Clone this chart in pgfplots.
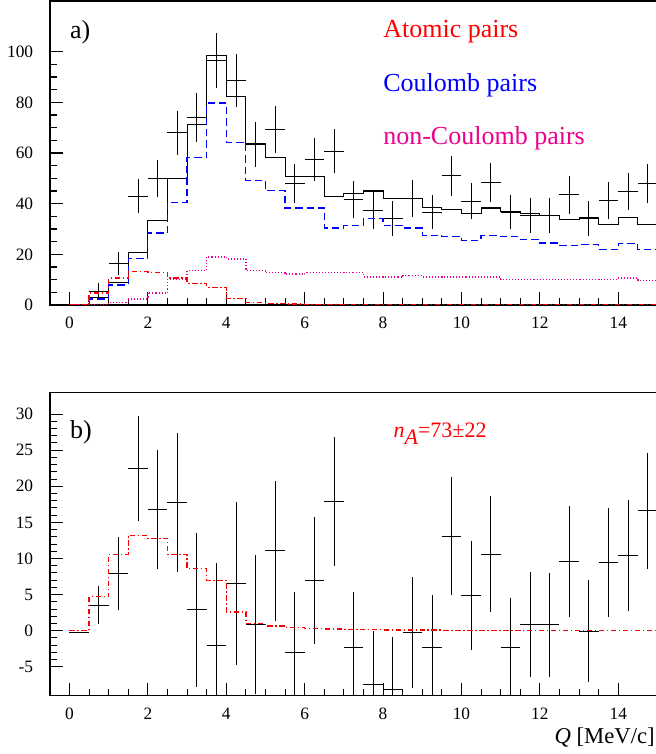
\documentclass[border=0pt]{standalone}
\usepackage{fontspec}
\setmainfont{Liberation Serif}
\usepackage{pgfplots}
\usepackage{pgfplotstable}
\pgfplotsset{compat=1.18}

% measured data points (bin centre, value, error)
\pgfplotstableread{
x     y      ey
0.25  0      0
0.75  5.5    3.0
1.25  16.4   4.4
1.75  43.0   6.7
2.25  50.1   7.3
2.75  67.9   8.8
3.25  74.0   9.5
3.75  96.6   10.9
4.25  88.6   10.5
4.75  63.2   8.9
5.25  69.2   9.2
5.75  47.8   7.7
6.25  57.4   8.5
6.75  60.7   8.7
7.25  41.7   7.2
7.75  37.4   7.5
8.25  34.1   6.8
8.75  42.0   7.2
9.25  36.7   6.8
9.75  51.1   7.9
10.25 41.0   7.2
10.75 48.5   7.7
11.25 36.7   6.8
11.75 35.4   7.0
12.25 35.4   7.0
12.75 43.6   7.5
13.25 34.1   6.9
13.75 41.3   7.2
14.25 44.8   7.4
14.75 48.1   7.7
}\datatop

% fitted histograms (bin low edge, content)
\pgfplotstableread{
x    sum   coul  nonc  atom
0    0     0     0     0
0.5  2.9   2.4   0     4.7
1    8.8   7.9   0.9   10.6
1.5  20.6  18.4  2.4   13.2
2    33.2  28.4  4.8   12.8
2.5  50.1  40.4  10.1  10.6
3    71.4  58.1  13.5  8.6
3.5  98.6  79.7  19.0  7.0
4    82.2  64.2  18.2  2.6
4.5  63.6  49.2  13.5  1.0
5    58.3  45.2  12.7  0.65
5.5  50.7  38.3  12.2  0.45
6    50.7  38.3  12.7  0.3
6.5  43.0  30.4  12.7  0.25
7    43.9  31.5  12.7  0.2
7.5  45.0  34.1  11.1  0.15
8    42.2  31.5  11.1  0.12
8.5  42.2  30.4  11.6  0.1
9    38.4  27.5  11.1  0.08
9.5  37.7  27.1  11.1  0.07
10   36.0  25.6  11.1  0.06
10.5 38.3  27.3  11.1  0.05
11   37.0  26.9  10.1  0.05
11.5 36.0  26.0  10.1  0.04
12   35.4  24.5  10.1  0.04
12.5 33.8  23.6  10.1  0.04
13   34.5  23.9  10.1  0.03
13.5 31.9  22.0  10.1  0.03
14   34.5  24.3  10.7  0.03
14.5 31.7  21.9  9.8   0.03
15   31.7  21.9  9.8   0.03
}\histos

% residuals: data minus non-atomic background
\pgfplotstableread{
x     y      ey
0.25  -0.23  0
0.75  3.55   2.6
1.25  7.9    5.05
1.75  22.5   7.25
2.25  16.8   8.2
2.75  17.8   9.6
3.25  2.9    10.7
3.75  -2.0   11.4
4.25  6.55   11.3
4.75  0.9    9.6
5.25  11.1   9.7
5.75  -2.95  8.35
6.25  7.0    8.8
6.75  17.9   8.95
7.25  -2.3   7.7
7.75  -7.5   7.4
8.25  -8.2   7.4
8.75  -0.23  7.7
9.25  -2.3   7.3
9.75  13.1   8.2
10.25 4.9    7.5
10.75 10.6   8.0
11.25 -2.3   6.9
11.75 0.9    7.3
12.25 0.8    7.2
12.75 9.55   7.7
13.25 -0.05  7.1
13.75 9.45   7.55
14.25 10.4   7.7
14.75 16.6   8.05
}\databot

\pgfplotsset{
  hbook/.style={
    scale only axis, width=455.7pt,
    xmin=-0.5, xmax=15,
    axis line style={line width=1pt},
    tick align=inside, tick pos=left,
    major tick length=9.75pt, minor tick length=5pt,
    every tick/.style={line width=0.8pt, black},
    xtick={0,2,...,14}, minor x tick num=3,
    /pgf/number format/assume math mode=true,
    every tick label/.append style={font=\fontsize{13}{13}\selectfont},
    yticklabel={\pgfmathprintnumber{\tick}\hspace*{9pt}},
    xticklabel={\rule{0pt}{14pt}\pgfmathprintnumber{\tick}},
  },
  pts/.style={black, line width=0.75pt, only marks, mark=text, text mark={},
    error bars/.cd, x dir=both, x fixed=0.25, y dir=both, y explicit,
    error mark=none, error bar style={line width=0.75pt}},
}
\tikzset{lab/.style={anchor=base west, inner sep=0pt, font=\fontsize{19.5}{19.5}\selectfont}}

\begin{document}
\begin{tikzpicture}
\path[use as bounding box] (0,0) rectangle (492pt,565.5pt);

\begin{axis}[hbook, at={(37.4pt,336.75pt)}, anchor=south west,
  height=228pt, ymin=0, ymax=120,
  ytick={0,20,...,100}, minor y tick num=3]
  \addplot[pts] table[x=x, y=y, y error=ey] {\datatop};
  \addplot[const plot, black, line width=0.8pt] table[x=x, y=sum] {\histos};
  \addplot[const plot, blue, line width=0.9pt, dash pattern=on 5.5pt off 3pt] table[x=x, y=coul] {\histos};
  \addplot[const plot, magenta, line width=1pt, dash pattern=on 0.8pt off 1.5pt] table[x=x, y=nonc] {\histos};
  \addplot[const plot, red, line width=1pt, dash pattern=on 4pt off 2pt on 1pt off 2pt] table[x=x, y=atom] {\histos};
  \node[lab] at (axis cs:0.01,105) {a)};
  \node[lab, text=red] at (axis cs:8.0,105.5) {Atomic pairs};
  \node[lab, text=blue] at (axis cs:8.0,84.3) {Coulomb pairs};
  \node[lab, text=magenta] at (axis cs:8.0,63.3) {non-Coulomb pairs};
\end{axis}

\begin{axis}[hbook, name=bot, at={(37.4pt,43.7pt)}, anchor=south west,
  height=227.5pt, ymin=-9, ymax=33,
  ytick={-5,0,...,30}, minor y tick num=4]
  \addplot[pts] table[x=x, y=y, y error=ey] {\databot};
  \addplot[const plot, red, line width=1pt, dash pattern=on 4pt off 2pt on 1pt off 2pt] table[x=x, y=atom] {\histos};
  \node[lab] at (axis cs:0.01,26.6) {b)};
  \node[lab, text=red, font=\fontsize{16.5}{16.5}\selectfont] at (axis cs:8.26,26.8)
    {\textit{n}\raisebox{-5.8pt}{\textit{A}}=73±22};
\end{axis}
\node[anchor=base east, inner sep=0pt, font=\fontsize{17}{17}\selectfont]
  at ([xshift=-1.9pt,yshift=-35.7pt]bot.south east) {\textit{Q} [MeV/c]};
\end{tikzpicture}
\end{document}
